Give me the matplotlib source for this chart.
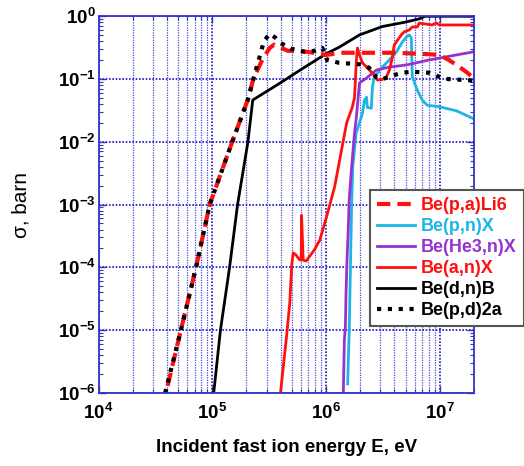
import matplotlib
matplotlib.use('Agg')
import matplotlib.pyplot as plt
from matplotlib.ticker import LogLocator, NullFormatter

plt.rcParams['font.family'] = ['Liberation Sans', 'DejaVu Sans']

# Be(p,a)Li6  -- red dashed
pa_E = [4.05e4, 5.3e4, 7.2e4, 9.5e4, 1.5e5, 2.05e5, 2.3e5, 2.75e5, 3.2e5, 3.5e5,
        4.6e5, 6.8e5, 1.0e6, 1.35e6, 4.0e6, 7.0e6, 9.9e6, 1.2e7, 1.45e7, 1.75e7, 2.0e7]
pa_s = [1.3e-6, 1e-5, 1e-4, 1e-3, 1e-2, 4.6e-2, 0.1, 0.2, 0.31, 0.35,
        0.28, 0.27, 0.24, 0.26, 0.26, 0.25, 0.24, 0.2, 0.16, 0.125, 0.1]

# Be(p,n)X  -- light blue
pn_E = [1.55e6, 1.6e6, 1.64e6, 1.68e6, 1.72e6, 1.84e6, 1.97e6, 2.09e6, 2.18e6, 2.27e6,
        2.31e6, 2.5e6, 2.56e6, 2.66e6, 3.13e6, 3.61e6, 4.15e6, 4.69e6, 5.08e6, 5.4e6,
        5.62e6, 5.74e6, 6.35e6, 7.02e6, 7.76e6, 9.9e6, 1.4e7, 2.0e7]
pn_s = [1.4e-6, 1e-5, 1e-4, 1e-3, 4e-3, 0.0137, 0.02, 0.028, 0.046, 0.051,
        0.035, 0.034, 0.074, 0.107, 0.154, 0.2, 0.267, 0.385, 0.46, 0.5,
        0.45, 0.107, 0.066, 0.046, 0.038, 0.036, 0.031, 0.023]

# Be(He3,n)X  -- purple
he_E = [1.42e6, 1.45e6, 1.48e6, 1.5e6, 1.53e6, 1.56e6, 1.6e6, 1.68e6, 1.78e6, 1.85e6,
        1.97e6, 2.27e6, 2.77e6, 3.61e6, 5.08e6, 8.1e6, 2.0e7]
he_s = [1e-6, 7e-6, 1.1e-5, 4e-5, 1.3e-4, 3e-4, 1.2e-3, 4e-3, 1.35e-2, 2.5e-2,
        0.086, 0.103, 0.138, 0.154, 0.166, 0.2, 0.27]

# Be(a,n)X  -- red solid
an_E = [3.98e5, 4.2e5, 4.5e5, 4.8e5, 5.0e5, 5.15e5, 5.4e5, 5.85e5, 6.05e5, 6.1e5,
        6.3e5, 6.7e5, 7.9e5, 8.8e5, 1.01e6, 1.19e6, 1.37e6, 1.52e6, 1.7e6, 1.78e6,
        1.85e6, 1.89e6, 1.97e6, 2.09e6, 2.41e6, 2.66e6, 2.83e6, 3.07e6, 3.39e6, 3.61e6,
        3.83e6, 3.98e6, 4.24e6, 4.59e6, 4.88e6, 5.4e6, 5.74e6, 6.35e6, 6.61e6, 8.6e6,
        9.3e6, 9.9e6, 2.0e7]
an_s = [1e-6, 2.5e-6, 8e-6, 2.7e-5, 1.1e-4, 1.7e-4, 1.6e-4, 1.33e-4, 1.3e-4, 6.7e-4,
        1.3e-4, 1.26e-4, 1.9e-4, 2.7e-4, 6.3e-4, 1.9e-3, 7.4e-3, 0.02, 0.035, 0.05,
        0.2, 0.31, 0.24, 0.18, 0.138, 0.115, 0.096, 0.096, 0.107, 0.138,
        0.22, 0.345, 0.41, 0.5, 0.56, 0.6, 0.67, 0.67, 0.77, 0.72,
        0.78, 0.72, 0.72]

# Be(d,n)B  -- black solid
dn_E = [1.03e5, 1.18e5, 1.42e5, 1.67e5, 2.06e5, 2.27e5, 4.0e5, 6.3e5, 1.0e6, 1.31e6,
        1.97e6, 3.13e6, 5.0e6, 6.6e6, 7.4e6, 2.0e7]
dn_s = [1e-6, 1e-5, 1e-4, 1e-3, 1e-2, 0.046, 0.087, 0.148, 0.25, 0.32,
        0.5, 0.68, 0.8, 0.9, 0.99, 0.99]

# Be(p,d)2a  -- black dotted
pd_E = [3.85e4, 5.3e4, 7.2e4, 9.5e4, 1.5e5, 2.05e5, 2.3e5, 2.6e5, 2.85e5, 3.2e5,
        3.6e5, 4.0e5, 5.0e5, 6.5e5, 8.0e5, 9.3e5, 1.02e6, 1.3e6, 2.0e6, 2.4e6,
        2.75e6, 3.2e6, 4.0e6, 4.7e6, 5.7e6, 8.0e6, 1.1e7, 1.8e7, 2.0e7]
pd_s = [1e-6, 1e-5, 1e-4, 1e-3, 1e-2, 4.6e-2, 0.1, 0.22, 0.4, 0.52,
        0.45, 0.37, 0.3, 0.27, 0.28, 0.31, 0.2, 0.18, 0.17, 0.15,
        0.107, 0.1, 0.115, 0.125, 0.13, 0.125, 0.1, 0.095, 0.093]

RED = '#ff1010'
BLUE = '#1eb4e6'
PURPLE = '#9632d2'
GRIDBLUE = '#1515c8'

fig = plt.figure(figsize=(5.24, 4.66), dpi=100)
ax = fig.add_axes([98.5/524, 1-393/466, (474-98.5)/524, (393-16)/466])

ax.plot(pn_E, pn_s, color=BLUE, lw=2.0, label='Be(p,n)X')
ax.plot(he_E, he_s, color=PURPLE, lw=2.0, label='Be(He3,n)X')
ax.plot(an_E, an_s, color=RED, lw=2.0, label='Be(a,n)X')
ax.plot(dn_E, dn_s, color='black', lw=2.0, label='Be(d,n)B')
ax.plot(pa_E, pa_s, color=RED, lw=3.0, dashes=(3.2, 1.7), label='Be(p,a)Li6')
ax.plot(pd_E, pd_s, color='black', lw=3.0, dashes=(1, 1.6), label='Be(p,d)2a')

ax.set_xscale('log')
ax.set_yscale('log')
ax.set_xlim(1e4, 2e7)
ax.set_ylim(1e-6, 1)

ax.xaxis.set_major_locator(LogLocator(base=10, numticks=10))
ax.xaxis.set_minor_locator(LogLocator(base=10, subs=range(2, 10), numticks=20))
ax.yaxis.set_major_locator(LogLocator(base=10, numticks=10))
ax.yaxis.set_minor_locator(LogLocator(base=10, subs=range(2, 10), numticks=20))
ax.xaxis.set_minor_formatter(NullFormatter())
ax.yaxis.set_minor_formatter(NullFormatter())

ax.grid(True, which='major', axis='both', color=GRIDBLUE, linestyle=(0, (1, 1)), linewidth=1.2)
ax.grid(True, which='minor', axis='x', color='#4a4ad8', linestyle=(0, (1, 1)), linewidth=0.9)

for sp in ax.spines.values():
    sp.set_color('#3333c8')
    sp.set_linewidth(1.3)

ax.tick_params(which='both', direction='in', colors='#3333c8', top=True, right=True)
ax.tick_params(which='major', length=5, width=1)
ax.tick_params(which='minor', length=3, width=0.8)
ax.tick_params(axis='both', labelcolor='black', labelsize=13.5)
ax.tick_params(axis='y', pad=2)
ax.tick_params(axis='x', pad=7)
for lab in ax.get_xticklabels() + ax.get_yticklabels():
    lab.set_fontweight('bold')

ax.set_xlabel('Incident fast ion energy E, eV', fontsize=13.5, fontweight='bold')
ax.xaxis.set_label_coords(0.5, -0.122)
ax.set_ylabel('\u03c3, barn', fontsize=15)
ax.yaxis.set_label_coords(-0.18, 0.5)

handles, labels = ax.get_legend_handles_labels()
order = ['Be(p,a)Li6', 'Be(p,n)X', 'Be(He3,n)X', 'Be(a,n)X', 'Be(d,n)B', 'Be(p,d)2a']
hmap = dict(zip(labels, handles))
leg = fig.legend([hmap[k] for k in order], order, loc='upper left',
                 bbox_to_anchor=(370/524, 1-190/466), borderaxespad=0,
                 fancybox=False, framealpha=1, edgecolor='#555555',
                 prop={'size': 13, 'weight': 'bold'}, handlelength=2.1,
                 labelspacing=0.22, handletextpad=0.3, borderpad=0.4)
leg.get_frame().set_linewidth(1.5)
for txt, ln in zip(leg.get_texts(), leg.get_lines()):
    txt.set_color(ln.get_color())

fig.savefig('out.png', dpi=100)
